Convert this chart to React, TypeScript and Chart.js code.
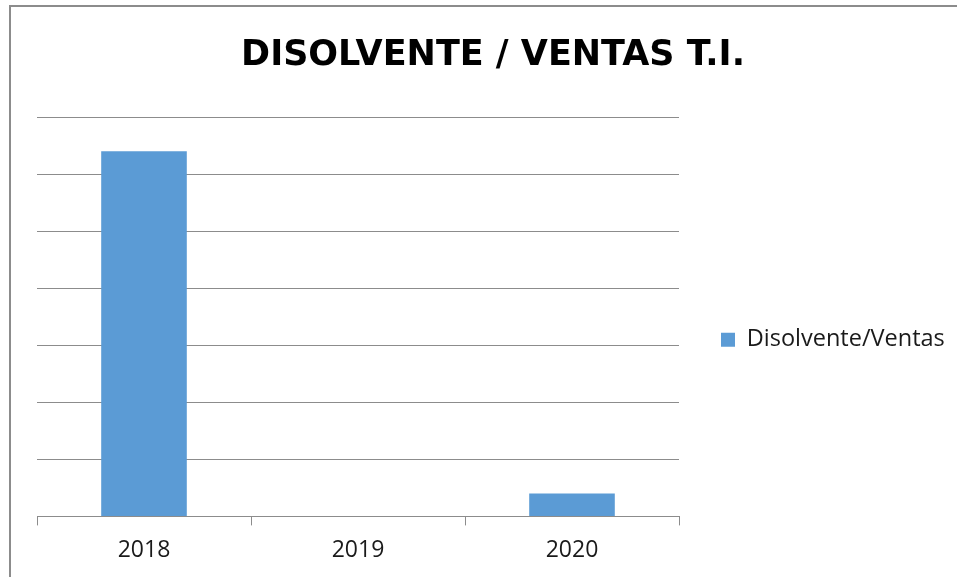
import { useEffect, useRef } from 'react';
import { Chart, registerables } from 'chart.js';

Chart.register(...registerables);

const chartTitle = 'DISOLVENTE / VENTAS T.I.';
const categories = ['2018', '2019', '2020'];
const seriesName = 'Disolvente/Ventas';
const seriesValues = [6.4, 0, 0.4];
const yMin = 0;
const yMax = 7;
const yStep = 1;

export default function App() {
  const canvasRef = useRef<HTMLCanvasElement | null>(null);

  useEffect(() => {
    const canvas = canvasRef.current;
    if (!canvas) return;
    const chart = new Chart(canvas, {
      type: 'bar',
      data: {
        labels: categories,
        datasets: [
          {
            label: seriesName,
            data: seriesValues,
            backgroundColor: '#5B9BD5',
            borderWidth: 0,
            barPercentage: 0.4,
            categoryPercentage: 1,
          },
        ],
      },
      options: {
        animation: false,
        responsive: true,
        maintainAspectRatio: false,
        layout: { padding: { left: 37, right: 8, top: 0, bottom: 1 } },
        plugins: {
          title: {
            display: true,
            text: chartTitle,
            color: '#000000',
            font: { family: '"DejaVu Sans", sans-serif', size: 35, weight: 'bold' },
            padding: { top: 35, bottom: 40 },
          },
          legend: {
            position: 'right',
            fullSize: false,
            title: { display: true, text: ' ', font: { size: 10 }, padding: 17 },
            labels: {
              boxWidth: 14,
              boxHeight: 14,
              padding: 0,
              color: '#1a1a1a',
              font: { family: '"Open Sans", sans-serif', size: 23.5 },
            },
          },
          tooltip: { enabled: false },
        },
        scales: {
          x: {
            grid: {
              offset: true,
              drawOnChartArea: false,
              drawTicks: true,
              tickLength: 9,
              color: '#8c8c8c',
            },
            border: { display: true, color: '#8c8c8c', width: 1 },
            ticks: {
              color: '#1a1a1a',
              padding: 11.5,
              font: { family: '"Open Sans", sans-serif', size: 23 },
            },
          },
          y: {
            position: 'right',
            min: yMin,
            max: yMax,
            ticks: { display: false, stepSize: yStep },
            grid: { color: '#8c8c8c', drawTicks: false },
            border: { display: false },
            afterFit: (scale: any) => {
              scale.width = 42;
            },
          },
        },
      },
    });
    return () => chart.destroy();
  }, []);

  return (
    <div style={{ position: 'absolute', left: 0, top: 0, width: 957, height: 577, background: '#ffffff' }}>
      <div
        style={{
          position: 'absolute',
          left: 9,
          top: 5,
          width: 948,
          height: 572,
          boxSizing: 'border-box',
          borderLeft: '2px solid #8c8c8c',
          borderTop: '2px solid #8c8c8c',
        }}
      />
      <div style={{ position: 'absolute', left: 0, top: 0, width: 957, height: 577 }}>
        <canvas ref={canvasRef} />
      </div>
    </div>
  );
}
